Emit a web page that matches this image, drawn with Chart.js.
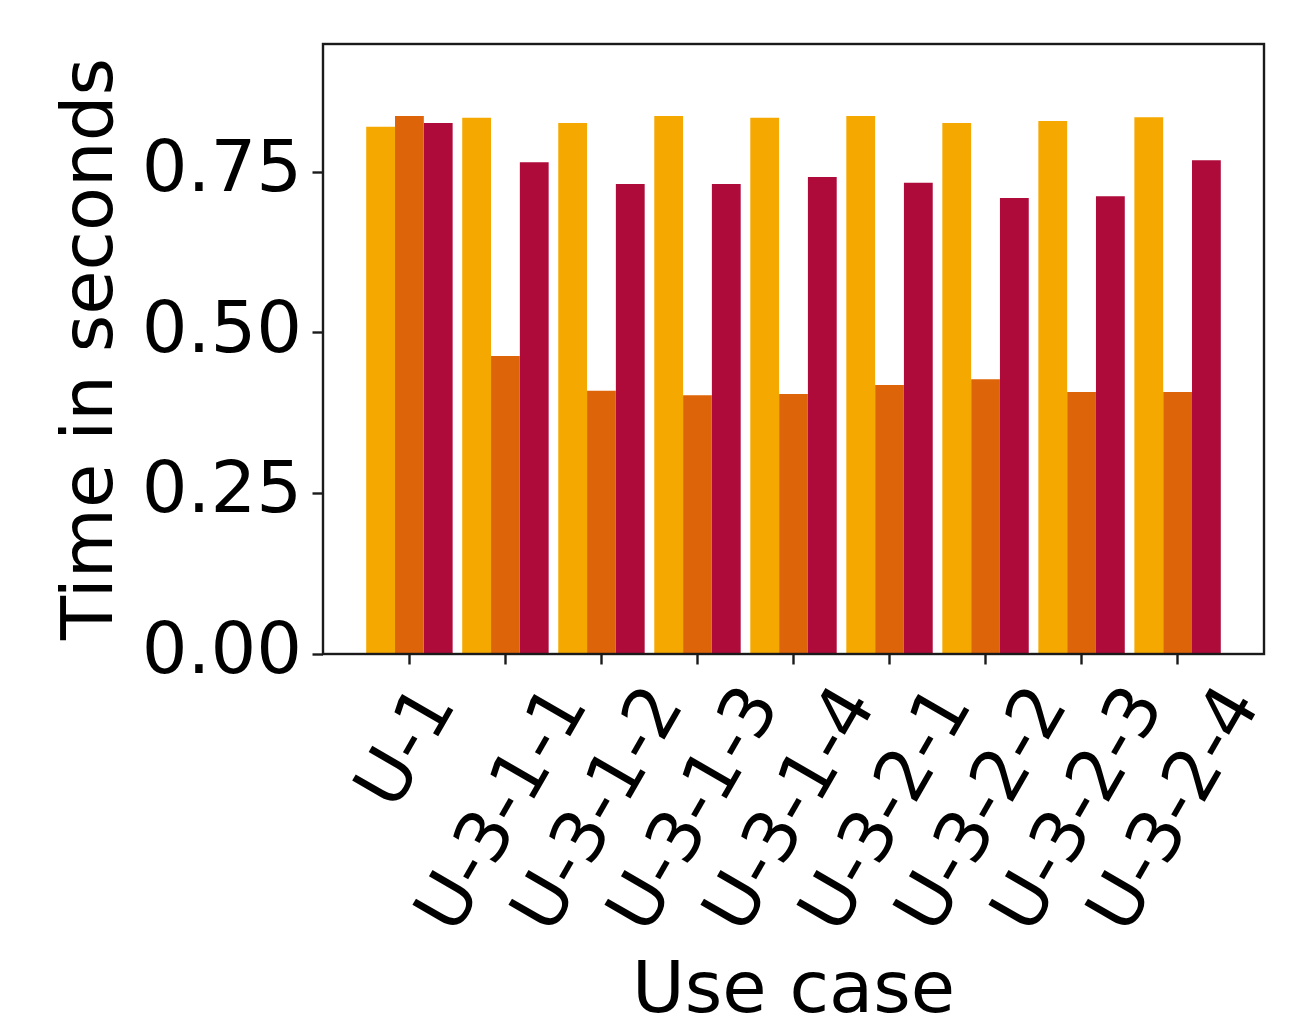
<!DOCTYPE html>
<html>
<head>
<meta charset="utf-8">
<script src="https://cdn.jsdelivr.net/npm/chart.js@4.4.1/dist/chart.umd.min.js"></script>
<style>
  html, body { margin: 0; padding: 0; background: #fff; }
</style>
</head>
<body>
<canvas id="c" width="1294" height="1019"></canvas>
<script>
// ---- data
const categories = ['U-1', 'U-3-1-1', 'U-3-1-2', 'U-3-1-3', 'U-3-1-4',
                    'U-3-2-1', 'U-3-2-2', 'U-3-2-3', 'U-3-2-4'];
const seriesYellow  = [0.821, 0.835, 0.827, 0.838, 0.835, 0.838, 0.827, 0.830, 0.836];
const seriesOrange  = [0.838, 0.464, 0.410, 0.403, 0.405, 0.419, 0.428, 0.408, 0.408];
const seriesCrimson = [0.827, 0.766, 0.732, 0.732, 0.743, 0.734, 0.710, 0.713, 0.769];
const yTicks = [0, 0.25, 0.5, 0.75];

const COLORS = ['#f5a800', '#dd6409', '#ae0a3a'];
const FONT = 72;
const TICK_LEN = 10.5;
const TICK_PAD = 10.5;
const INK = '#1a1a1a';

Chart.defaults.font.family = '"DejaVu Sans", sans-serif';
Chart.defaults.color = '#000';

const toPoints = (arr) => arr.map((v, i) => ({ x: i, y: v }));

// matplotlib-style frame, drawn above the bars like the spines
const framePlugin = {
  id: 'frame',
  afterDatasetsDraw(chart) {
    const { ctx, chartArea: a } = chart;
    ctx.save();
    ctx.strokeStyle = INK;
    ctx.lineWidth = 2.4;
    ctx.strokeRect(a.left, a.top, a.right - a.left, a.bottom - a.top);
    ctx.restore();
  },
};

// rotated x labels, bbox centred on the tick (matplotlib rotation=60, ha=center)
const xLabelPlugin = {
  id: 'xLabels',
  afterDraw(chart) {
    const ctx = chart.ctx, xs = chart.scales.x;
    const ang = 60 * Math.PI / 180;
    const y0 = xs.top + TICK_LEN + TICK_PAD + 2;
    ctx.save();
    ctx.font = FONT + 'px "DejaVu Sans"';
    ctx.fillStyle = '#000';
    ctx.textAlign = 'center';
    ctx.textBaseline = 'alphabetic';
    categories.forEach((lab, i) => {
      const w = ctx.measureText(lab).width;
      const bh = w * Math.sin(ang) + FONT * Math.cos(ang);
      ctx.save();
      ctx.translate(xs.getPixelForValue(i), y0 + bh / 2);
      ctx.rotate(-ang);
      // box centre sits ~0.26em above the baseline
      ctx.fillText(lab, 0, 0.26 * FONT);
      ctx.restore();
    });
    ctx.restore();
  },
};

const barOpts = { categoryPercentage: 0.9, barPercentage: 1.0, borderWidth: 0 };

new Chart(document.getElementById('c'), {
  type: 'bar',
  data: {
    datasets: [
      { ...barOpts, data: toPoints(seriesYellow),  backgroundColor: COLORS[0] },
      { ...barOpts, data: toPoints(seriesOrange),  backgroundColor: COLORS[1] },
      { ...barOpts, data: toPoints(seriesCrimson), backgroundColor: COLORS[2] },
    ],
  },
  options: {
    responsive: false,
    animation: false,
    layout: { padding: { left: 0, top: 44, right: 30, bottom: 0 } },
    plugins: { legend: { display: false }, tooltip: { enabled: false } },
    scales: {
      x: {
        type: 'linear', min: -0.9, max: 8.9, offset: false,
        afterBuildTicks: (s) => { s.ticks = categories.map((_, i) => ({ value: i })); },
        afterFit: (s) => { s.height = 1019 - 654; s.paddingLeft = 0; s.paddingRight = 0; },
        grid: { offset: false, drawOnChartArea: false, drawTicks: true,
                tickLength: TICK_LEN, tickWidth: 2.4, tickColor: INK },
        border: { display: false },
        ticks: { display: false },
        title: { display: true, text: 'Use case', color: '#000',
                 font: { size: FONT, lineHeight: 1 }, padding: { top: 0, bottom: -10 } },
      },
      y: {
        min: 0, max: 0.95,
        afterBuildTicks: (s) => { s.ticks = yTicks.map(v => ({ value: v })); },
        afterFit: (s) => { s.width = 323; s.paddingTop = 0; s.paddingBottom = 0; },
        grid: { drawOnChartArea: false, drawTicks: true,
                tickLength: TICK_LEN, tickWidth: 2.4, tickColor: INK },
        border: { display: false },
        ticks: { padding: TICK_PAD, font: { size: FONT }, color: '#000',
                 callback: (v) => Number(v).toFixed(2) },
        title: { display: true, text: 'Time in seconds', color: '#000',
                 font: { size: FONT, lineHeight: 1 }, padding: { top: 57, bottom: 0 } },
      },
    },
  },
  plugins: [framePlugin, xLabelPlugin],
});
</script>
</body>
</html>
